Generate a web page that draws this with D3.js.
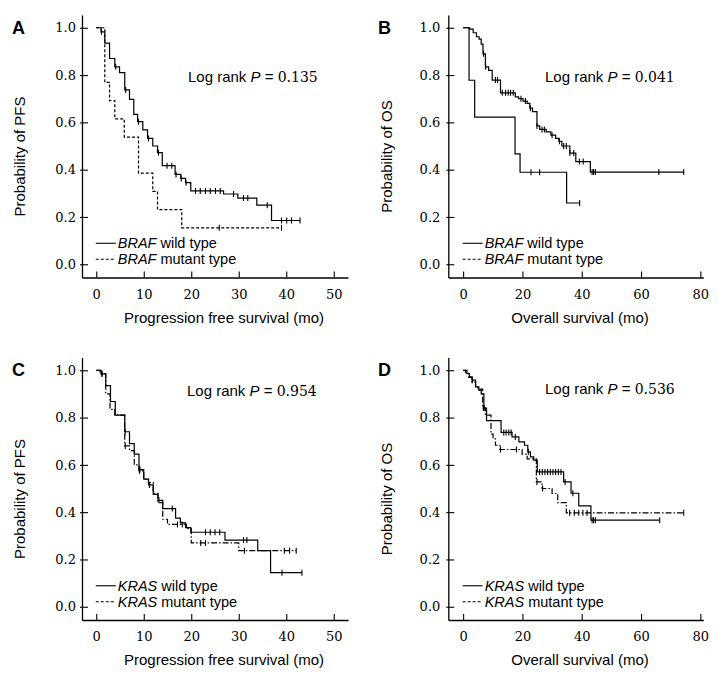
<!DOCTYPE html>
<html>
<head>
<meta charset="utf-8">
<script src="https://cdn.jsdelivr.net/npm/d3@7"></script>
<style>
  body { margin: 0; background: #fff; }
  svg { display: block; }
</style>
</head>
<body>
<svg id="chart" width="722" height="676"></svg>
<script>
// ---- data ----
// panel A: PFS by BRAF
const aWildTimes = [1.0, 1.8, 2.8, 3.9, 4.9, 6.0, 7.0, 7.9, 8.7, 9.8, 10.8, 11.9, 12.9, 13.9, 16.6, 17.8, 18.8, 19.9, 26.8, 29.8, 33.8, 36.9];
const aWildSurv  = [0.983, 0.935, 0.87, 0.835, 0.81, 0.737, 0.697, 0.634, 0.603, 0.568, 0.532, 0.50, 0.472, 0.417, 0.38, 0.363, 0.345, 0.31, 0.297, 0.28, 0.25, 0.185];
const aWildCens  = [1.1, 4.1, 6.2, 8.9, 11.0, 13.1, 14.9, 15.9, 16.8, 17.9, 18.9, 20.9, 21.9, 23.0, 24.0, 25.1, 26.1, 28.9, 31.0, 31.9, 36.0, 39.0, 40.1, 41.1, 42.9];
const aMutTimes  = [1.8, 2.8, 3.9, 5.9, 8.9, 11.9, 12.9, 18.0];
const aMutSurv   = [0.769, 0.692, 0.615, 0.538, 0.385, 0.308, 0.231, 0.154];
const aMutCens   = [25.9, 39.0];

// panel B: OS by BRAF
const bWildTimes = [2.2, 3.4, 4.5, 5.4, 6.1, 6.7, 7.5, 8.6, 9.8, 12.6, 17.6, 18.7, 20.2, 21.6, 22.5, 23.4, 24.9, 25.8, 28.0, 29.6, 31.2, 32.3, 33.3, 36.0, 38.0, 42.9];
const bWildSurv  = [0.994, 0.979, 0.962, 0.952, 0.931, 0.89, 0.835, 0.82, 0.779, 0.725, 0.708, 0.70, 0.69, 0.68, 0.66, 0.645, 0.585, 0.57, 0.56, 0.546, 0.532, 0.52, 0.50, 0.47, 0.434, 0.39];
const bWildCens  = [6.9, 7.6, 10.9, 11.6, 13.2, 14.3, 15.2, 16.0, 16.9, 19.5, 21.0, 22.7, 24.9, 26.6, 27.4, 30.0, 32.5, 33.9, 34.8, 36.0, 37.3, 39.2, 40.5, 43.5, 44.0, 44.6, 66.0, 74.4];
const bMutTimes  = [2.0, 3.9, 17.5, 19.2, 34.9];
const bMutSurv   = [0.778, 0.622, 0.467, 0.389, 0.259];
const bMutCens   = [22.9, 25.8, 39.3];

// panel C: PFS by KRAS
const cWildTimes = [1.0, 2.0, 3.0, 4.0, 6.0, 7.0, 8.0, 9.0, 10.0, 11.0, 12.0, 13.0, 14.0, 16.7, 17.7, 18.8, 19.9, 27.1, 34.0, 36.7];
const cWildSurv  = [0.985, 0.935, 0.868, 0.81, 0.74, 0.69, 0.645, 0.58, 0.54, 0.515, 0.475, 0.45, 0.415, 0.375, 0.355, 0.335, 0.315, 0.282, 0.237, 0.144];
const cWildCens  = [1.2, 6.1, 9.2, 11.2, 13.2, 16.0, 23.0, 24.0, 25.0, 26.0, 31.0, 31.7, 39.1, 43.3];
const cMutTimes  = [0.8, 2.0, 2.9, 3.9, 6.0, 7.0, 8.0, 9.0, 10.0, 11.0, 12.0, 13.0, 14.0, 15.0, 19.0, 20.0, 30.0];
const cMutSurv   = [0.985, 0.90, 0.835, 0.81, 0.68, 0.66, 0.60, 0.575, 0.54, 0.525, 0.48, 0.44, 0.37, 0.348, 0.33, 0.27, 0.237];
const cMutCens   = [1.2, 6.1, 9.1, 17.1, 18.1, 22.0, 23.0, 31.2, 39.6, 40.7, 42.1];

// panel D: OS by KRAS
const dWildTimes = [1.3, 2.1, 3.0, 4.2, 5.3, 6.1, 7.0, 7.9, 12.8, 16.5, 18.8, 20.7, 21.8, 22.7, 23.8, 25.0, 33.9, 36.4, 39.0, 43.1];
const dWildSurv  = [0.986, 0.972, 0.958, 0.93, 0.915, 0.90, 0.84, 0.787, 0.737, 0.718, 0.697, 0.683, 0.655, 0.634, 0.62, 0.57, 0.528, 0.48, 0.427, 0.366];
const dWildCens  = [3.1, 7.1, 13.7, 14.5, 15.4, 16.2, 17.6, 22.0, 25.8, 26.7, 27.6, 28.5, 29.4, 30.3, 31.2, 32.1, 33.0, 34.4, 37.0, 43.5, 44.0, 44.6, 66.3];
const dMutTimes  = [0.8, 1.9, 3.0, 4.2, 4.9, 6.6, 7.5, 9.4, 10.1, 10.9, 12.4, 19.9, 21.6, 24.7, 26.6, 30.0, 31.9, 34.8];
const dMutSurv   = [0.99, 0.97, 0.95, 0.93, 0.92, 0.84, 0.81, 0.73, 0.71, 0.683, 0.665, 0.645, 0.625, 0.528, 0.50, 0.479, 0.44, 0.397];
const dMutCens   = [6.8, 12.6, 18.0, 24.9, 26.8, 35.9, 37.5, 39.0, 40.4, 41.8, 74.4];

const yTicks = [0, 0.2, 0.4, 0.6, 0.8, 1.0];
const pfsTicks = [0, 10, 20, 30, 40, 50];
const osTicks = [0, 20, 40, 60, 80];

const panelLetters = ["A", "B", "C", "D"];
const pValues = ["0.135", "0.041", "0.954", "0.536"];
const geneNames = ["BRAF", "BRAF", "KRAS", "KRAS"];
const yTitles = ["Probability of PFS", "Probability of OS", "Probability of PFS", "Probability of OS"];
const xTitles = ["Progression free survival (mo)", "Overall survival (mo)", "Progression free survival (mo)", "Overall survival (mo)"];

const SANS = "'Liberation Sans', Arial, sans-serif";
const SERIF = "'DejaVu Serif', serif";

const svg = d3.select("#chart");

// step value of a KM curve at time t
function survAt(times, surv, t) {
    let s = 1;
    for (let i = 0; i < times.length; i++) {
        if (times[i] <= t) s = surv[i];
    }
    return s;
}

function drawCurve(g, x, y, times, surv, cens, dash) {
    const end = d3.max([d3.max(times), d3.max(cens)]);
    const pts = [[0, 1]].concat(times.map((t, i) => [t, surv[i]]));
    pts.push([end, surv[surv.length - 1]]);
    const line = d3.line().curve(d3.curveStepAfter)
        .x(d => x(d[0])).y(d => y(d[1]));
    g.append("path")
        .attr("d", line(pts))
        .attr("fill", "none")
        .attr("stroke", "#000")
        .attr("stroke-width", 1.2)
        .attr("stroke-dasharray", dash);
    // censor ticks
    g.selectAll(null).data(cens).enter()
        .append("line")
        .attr("x1", d => x(d)).attr("x2", d => x(d))
        .attr("y1", d => y(survAt(times, surv, d)) - 3)
        .attr("y2", d => y(survAt(times, surv, d)) + 3)
        .attr("stroke", "#000")
        .attr("stroke-width", 1.1);
}

function drawPanel(p) {
    const g = svg.append("g");
    const x = d3.scaleLinear().domain(p.xDomain).range(p.xRange);
    const y = d3.scaleLinear().domain([-0.056, 1.054]).range([p.yBase, p.yBase - 262.5]);

    const xAxis = d3.axisBottom(x).tickValues(p.xTicks).tickFormat(d3.format("d"))
        .tickSizeInner(-6).tickSizeOuter(0).tickPadding(12);
    const gx = g.append("g").attr("transform", `translate(0,${p.yBase})`).call(xAxis);
    const yAxis = d3.axisLeft(y).tickValues(yTicks).tickFormat(d3.format(".1f"))
        .tickSizeInner(-6).tickSizeOuter(0).tickPadding(p.yPad);
    const gy = g.append("g").attr("transform", `translate(${p.xRange[0]},0)`).call(yAxis);
    gy.selectAll(".tick line").attr("x1", -2);
    [gx, gy].forEach(a => {
        a.selectAll("path.domain").attr("stroke-width", 1.3);
        a.selectAll(".tick line").attr("stroke-width", 1.1);
        a.selectAll("text").attr("font-family", SERIF).attr("font-size", 13).attr("fill", "#000");
    });

    drawCurve(g, x, y, p.wild[0], p.wild[1], p.wild[2], null);
    drawCurve(g, x, y, p.mut[0], p.mut[1], p.mut[2], p.mutDash);

    // legend
    const lx = x(0) - 0.5;
    [["wild type", null], ["mutant type", "3,2"]].forEach((d, i) => {
        const ly = y(0) - 21 + i * 16;
        g.append("line").attr("x1", lx).attr("x2", lx + 20).attr("y1", ly).attr("y2", ly)
            .attr("stroke", "#000").attr("stroke-width", 1.1).attr("stroke-dasharray", d[1]);
        const t = g.append("text").attr("x", lx + 22).attr("y", ly + 5)
            .attr("font-family", SANS).attr("font-size", 14.5);
        t.append("tspan").attr("font-style", "italic").text(p.gene);
        t.append("tspan").text(" " + d[0]);
    });

    // log rank
    const lr = g.append("text").attr("x", p.lrX).attr("y", p.lrY)
        .attr("font-family", SANS).attr("font-size", 15);
    lr.append("tspan").text("Log rank ");
    lr.append("tspan").attr("font-style", "italic").text("P");
    lr.append("tspan").text(" = ");
    lr.append("tspan").attr("font-family", SERIF).attr("font-size", 14).text(p.pValue);

    // titles
    g.append("text")
        .attr("transform", `translate(${p.yTitleX},${p.yBase - 121}) rotate(-90)`)
        .attr("text-anchor", "middle")
        .attr("font-family", SANS).attr("font-size", 15)
        .text(p.yTitle);
    g.append("text")
        .attr("x", p.xTitleX).attr("y", p.yBase + 45)
        .attr("text-anchor", "middle")
        .attr("font-family", SANS).attr("font-size", 15)
        .text(p.xTitle);
    g.append("text")
        .attr("x", p.letterX).attr("y", p.yBase - 244)
        .attr("font-family", SANS).attr("font-size", 18).attr("font-weight", "bold")
        .text(p.letter);
}

const panels = [
    { wild: [aWildTimes, aWildSurv, aWildCens], mut: [aMutTimes, aMutSurv, aMutCens], mutDash: "3,2",
      xDomain: [-3, 53], xRange: [82, 348], xTicks: pfsTicks, yBase: 277.5, yPad: 6,
      lrX: 188, lrY: 82, yTitleX: 25, xTitleX: 224, letterX: 12 },
    { wild: [bWildTimes, bWildSurv, bWildCens], mut: [bMutTimes, bMutSurv, bMutCens], mutDash: null,
      xDomain: [-5, 81], xRange: [448.3, 703.3], xTicks: osTicks, yBase: 277.5, yPad: 8,
      lrX: 545, lrY: 82, yTitleX: 392, xTitleX: 580, letterX: 378 },
    { wild: [cWildTimes, cWildSurv, cWildCens], mut: [cMutTimes, cMutSurv, cMutCens], mutDash: "6,2,1.5,2",
      xDomain: [-3, 53], xRange: [82, 348], xTicks: pfsTicks, yBase: 620, yPad: 6,
      lrX: 187, lrY: 395.5, yTitleX: 25, xTitleX: 224, letterX: 12 },
    { wild: [dWildTimes, dWildSurv, dWildCens], mut: [dMutTimes, dMutSurv, dMutCens], mutDash: "6,2,1.5,2",
      xDomain: [-5, 81], xRange: [448.3, 703.3], xTicks: osTicks, yBase: 620, yPad: 8,
      lrX: 545, lrY: 394, yTitleX: 392, xTitleX: 580, letterX: 378 }
];

panels.forEach((p, i) => {
    p.letter = panelLetters[i];
    p.pValue = pValues[i];
    p.gene = geneNames[i];
    p.yTitle = yTitles[i];
    p.xTitle = xTitles[i];
    drawPanel(p);
});
</script>
</body>
</html>
